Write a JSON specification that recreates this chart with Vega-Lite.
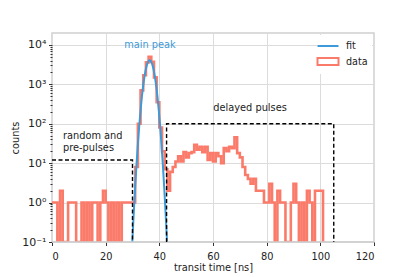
{
  "$schema": "https://vega.github.io/schema/vega-lite/v6.json",
  "autosize": {"type": "none"},
  "width": 322,
  "height": 209,
  "padding": {"left": 52, "top": 33, "right": 41, "bottom": 35},
  "background": "white",
  "datasets": {
    "hist": [
      {"time": 0, "counts": 1}, {"time": 1, "counts": 1}, {"time": 2, "counts": 0}, {"time": 3, "counts": 2},
      {"time": 4, "counts": 0}, {"time": 5, "counts": 0}, {"time": 6, "counts": 1}, {"time": 7, "counts": 1},
      {"time": 8, "counts": 1}, {"time": 9, "counts": 0}, {"time": 10, "counts": 0}, {"time": 11, "counts": 1},
      {"time": 12, "counts": 0}, {"time": 13, "counts": 1}, {"time": 14, "counts": 0}, {"time": 15, "counts": 1},
      {"time": 16, "counts": 1}, {"time": 17, "counts": 0}, {"time": 18, "counts": 1}, {"time": 19, "counts": 2},
      {"time": 20, "counts": 1}, {"time": 21, "counts": 0}, {"time": 22, "counts": 1}, {"time": 23, "counts": 0},
      {"time": 24, "counts": 1}, {"time": 25, "counts": 0}, {"time": 26, "counts": 1}, {"time": 27, "counts": 1},
      {"time": 28, "counts": 1}, {"time": 29, "counts": 1}, {"time": 30, "counts": 1}, {"time": 31, "counts": 8},
      {"time": 32, "counts": 100}, {"time": 33, "counts": 700}, {"time": 34, "counts": 1700}, {"time": 35, "counts": 3600},
      {"time": 36, "counts": 5000}, {"time": 37, "counts": 3700}, {"time": 38, "counts": 1500}, {"time": 39, "counts": 350},
      {"time": 40, "counts": 80}, {"time": 41, "counts": 20}, {"time": 42, "counts": 7}, {"time": 43, "counts": 2},
      {"time": 44, "counts": 6}, {"time": 45, "counts": 8}, {"time": 46, "counts": 11}, {"time": 47, "counts": 15},
      {"time": 48, "counts": 11}, {"time": 49, "counts": 19}, {"time": 50, "counts": 14}, {"time": 51, "counts": 18},
      {"time": 52, "counts": 19}, {"time": 53, "counts": 29}, {"time": 54, "counts": 22}, {"time": 55, "counts": 26},
      {"time": 56, "counts": 19}, {"time": 57, "counts": 26}, {"time": 58, "counts": 12}, {"time": 59, "counts": 18},
      {"time": 60, "counts": 11}, {"time": 61, "counts": 18}, {"time": 62, "counts": 15}, {"time": 63, "counts": 10},
      {"time": 64, "counts": 24}, {"time": 65, "counts": 20}, {"time": 66, "counts": 26}, {"time": 67, "counts": 24},
      {"time": 68, "counts": 45}, {"time": 69, "counts": 18}, {"time": 70, "counts": 14}, {"time": 71, "counts": 8},
      {"time": 72, "counts": 5}, {"time": 73, "counts": 4}, {"time": 74, "counts": 3}, {"time": 75, "counts": 4},
      {"time": 76, "counts": 2}, {"time": 77, "counts": 2}, {"time": 78, "counts": 2}, {"time": 79, "counts": 1},
      {"time": 80, "counts": 1}, {"time": 81, "counts": 3}, {"time": 82, "counts": 1}, {"time": 83, "counts": 0},
      {"time": 84, "counts": 2}, {"time": 85, "counts": 1}, {"time": 86, "counts": 1}, {"time": 87, "counts": 0},
      {"time": 88, "counts": 0}, {"time": 89, "counts": 1}, {"time": 90, "counts": 3}, {"time": 91, "counts": 1},
      {"time": 92, "counts": 0}, {"time": 93, "counts": 1}, {"time": 94, "counts": 0}, {"time": 95, "counts": 2},
      {"time": 96, "counts": 1}, {"time": 97, "counts": 0}, {"time": 98, "counts": 2}, {"time": 99, "counts": 2},
      {"time": 100, "counts": 2}, {"time": 101, "counts": 0}
    ],
    "fit": [
      {"time": 29.93, "counts": 0.1}, {"time": 30.0, "counts": 0.127}, {"time": 30.5, "counts": 0.604},
      {"time": 31.0, "counts": 2.52}, {"time": 31.5, "counts": 9.31}, {"time": 32.0, "counts": 30.2},
      {"time": 32.5, "counts": 86.5}, {"time": 33.0, "counts": 217.8}, {"time": 33.5, "counts": 484},
      {"time": 34.0, "counts": 946}, {"time": 34.5, "counts": 1633}, {"time": 35.0, "counts": 2477},
      {"time": 35.5, "counts": 3319}, {"time": 36.0, "counts": 3911}, {"time": 36.4, "counts": 4074},
      {"time": 36.8, "counts": 3911}, {"time": 37.3, "counts": 3319}, {"time": 37.8, "counts": 2477},
      {"time": 38.3, "counts": 1633}, {"time": 38.8, "counts": 946}, {"time": 39.3, "counts": 484},
      {"time": 39.8, "counts": 217.8}, {"time": 40.3, "counts": 86.5}, {"time": 40.8, "counts": 30.2},
      {"time": 41.3, "counts": 9.31}, {"time": 41.8, "counts": 2.52}, {"time": 42.3, "counts": 0.604},
      {"time": 42.8, "counts": 0.127}, {"time": 42.87, "counts": 0.1}
    ],
    "boxes": [
      {"box": "random", "o": 1, "time": 0, "counts": 12},
      {"box": "random", "o": 2, "time": 30, "counts": 12},
      {"box": "random", "o": 3, "time": 30, "counts": 0.1},
      {"box": "delayed", "o": 1, "time": 42.7, "counts": 0.1},
      {"box": "delayed", "o": 2, "time": 42.7, "counts": 100},
      {"box": "delayed", "o": 3, "time": 105, "counts": 100},
      {"box": "delayed", "o": 4, "time": 105, "counts": 0.1}
    ]
  },
  "layer": [
    {
      "data": {"name": "hist"},
      "mark": {"type": "line", "interpolate": "step-after", "strokeWidth": 2.6, "clip": true},
      "encoding": {
        "x": {
          "field": "time", "type": "quantitative",
          "scale": {"domain": [0, 120], "nice": false},
          "axis": {"values": [0, 20, 40, 60, 80, 100, 120], "title": "transit time [ns]", "titlePadding": 2, "labelPadding": 5.5}
        },
        "y": {
          "field": "counts", "type": "quantitative",
          "scale": {"type": "log", "domain": [0.1, 20000], "nice": false, "clamp": true},
          "axis": {
            "orient": "left",
            "values": [0.1, 1, 10, 100, 1000, 10000],
            "labelExpr": "datum.value < 0.5 ? '10⁻¹' : datum.value < 5 ? '10⁰' : datum.value < 50 ? '10¹' : datum.value < 500 ? '10²' : datum.value < 5000 ? '10³' : '10⁴'",
            "labelFontSize": 11,
            "title": "counts", "titlePadding": 1, "labelPadding": 2.5
          }
        },
        "color": {
          "datum": "data", "type": "nominal",
          "scale": {"domain": ["fit", "data"], "range": ["#3d9ad8", "#fb7b6b"]},
          "legend": {
            "title": null, "orient": "top-right", "offset": 2, "padding": 4,
            "fillColor": "white", "strokeColor": null,
            "labelFont": "DejaVu Sans", "labelFontSize": 9.6, "labelColor": "#222222",
            "symbolSize": 144, "labelOffset": 11, "rowPadding": 2.5,
            "encode": {
              "symbols": {
                "update": {
                  "shape": {"signal": "datum.value === 'fit' ? 'M-1.75,0H1.75' : 'M-1.75,-0.6H1.75V0.6H-1.75Z'"},
                  "fill": {"value": "white"},
                  "fillOpacity": {"value": 1},
                  "stroke": {"signal": "datum.value === 'fit' ? '#3d9ad8' : '#fb7b6b'"},
                  "strokeWidth": {"value": 2}
                }
              }
            }
          }
        }
      }
    },
    {
      "data": {"name": "fit"},
      "mark": {"type": "line", "strokeWidth": 2, "clip": true},
      "encoding": {
        "x": {"field": "time", "type": "quantitative"},
        "y": {
          "field": "counts", "type": "quantitative",
          "axis": {
            "orient": "left", "title": null, "labels": false, "grid": false, "domain": false,
            "ticks": true, "tickSize": 2,
            "values": [0.2, 0.3, 0.4, 0.5, 0.6, 0.7, 0.8, 0.9, 2, 3, 4, 5, 6, 7, 8, 9, 20, 30, 40, 50, 60, 70, 80, 90, 200, 300, 400, 500, 600, 700, 800, 900, 2000, 3000, 4000, 5000, 6000, 7000, 8000, 9000]
          }
        },
        "color": {"datum": "fit", "type": "nominal"}
      }
    },
    {
      "data": {"values": [{}]},
      "mark": {"type": "rule", "color": "#cfcfcf", "strokeWidth": 1.5},
      "encoding": {"y": {"datum": 0.1, "type": "quantitative", "axis": null}}
    },
    {
      "data": {"name": "boxes"},
      "mark": {"type": "line", "color": "black", "strokeWidth": 1.4, "strokeDash": [4, 2.5], "clip": true},
      "encoding": {
        "x": {"field": "time", "type": "quantitative"},
        "y": {"field": "counts", "type": "quantitative", "axis": null},
        "detail": {"field": "box", "type": "nominal"},
        "order": {"field": "o", "type": "quantitative"}
      }
    },
    {
      "data": {"values": [{"time": 36.5, "counts": 10000, "label": "main peak"}]},
      "mark": {"type": "text", "font": "DejaVu Sans", "fontSize": 9.8, "color": "#3d9ad8", "align": "center", "baseline": "middle"},
      "encoding": {
        "x": {"field": "time", "type": "quantitative"},
        "y": {"field": "counts", "type": "quantitative", "axis": null},
        "text": {"field": "label"}
      }
    },
    {
      "data": {"values": [{"time": 73.8, "counts": 250, "label": "delayed pulses"}]},
      "mark": {"type": "text", "font": "DejaVu Sans", "fontSize": 9.8, "color": "#222222", "align": "center", "baseline": "middle"},
      "encoding": {
        "x": {"field": "time", "type": "quantitative"},
        "y": {"field": "counts", "type": "quantitative", "axis": null},
        "text": {"field": "label"}
      }
    },
    {
      "data": {"values": [{"time": 4.1, "counts": 48, "label": "random and\npre-pulses"}]},
      "mark": {"type": "text", "font": "DejaVu Sans", "fontSize": 9.8, "color": "#222222", "align": "left", "baseline": "middle", "lineBreak": "\n", "lineHeight": 11.5},
      "encoding": {
        "x": {"field": "time", "type": "quantitative"},
        "y": {"field": "counts", "type": "quantitative", "axis": null},
        "text": {"field": "label"}
      }
    }
  ],
  "resolve": {"axis": {"y": "independent"}},
  "config": {
    "view": {"stroke": "#cfcfcf", "strokeWidth": 1.5},
    "axis": {
      "domain": false,
      "grid": true,
      "gridColor": "#dcdcdc",
      "gridWidth": 1,
      "tickColor": "#333333",
      "tickSize": 3.5,
      "tickWidth": 1,
      "labelFont": "DejaVu Sans",
      "labelFontSize": 9.8,
      "labelColor": "#222222",
      "titleFont": "DejaVu Sans",
      "titleFontSize": 9.8,
      "titleFontWeight": "normal",
      "titleColor": "#222222"
    }
  }
}
